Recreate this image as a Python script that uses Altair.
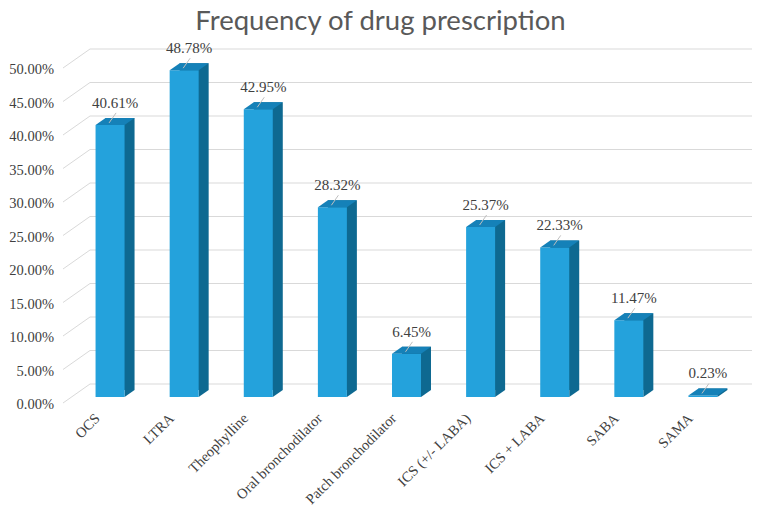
import altair as alt
import pandas as pd

categories = ["OCS", "LTRA", "Theophylline", "Oral bronchodilator", "Patch bronchodilator",
              "ICS (+/- LABA)", "ICS + LABA", "SABA", "SAMA"]
values = [0.4061, 0.4878, 0.4295, 0.2832, 0.0645, 0.2537, 0.2233, 0.1147, 0.0023]
grid_ticks = [0.0, 0.05, 0.10, 0.15, 0.20, 0.25, 0.30, 0.35, 0.40, 0.45, 0.50]

df = pd.DataFrame({"cat": categories, "value": values})
gdf = pd.DataFrame({"value": grid_ticks})

W, H = 667, 335
FRONT = "#24A2DC"
SIDE = "#0E6991"
TOP = "#1581B8"
SERIF = "Liberation Serif"

xaxis = alt.Axis(title=None, labelAngle=315, labelAlign="right", labelBaseline="top",
                 labelPadding=14, labelOffset=-17, labelFont=SERIF, labelFontSize=14.5,
                 labelColor="#404040", domain=False, ticks=False, grid=False,
                 labelOverlap=False, labelLimit=300)
yaxis = alt.Axis(title=None, values=grid_ticks, labels=False, domain=False, ticks=False, grid=False)

X = alt.X("cat:N", sort=categories, scale=alt.Scale(paddingInner=0, paddingOuter=0), axis=xaxis)
Y = alt.Y("value:Q", scale=alt.Scale(domain=[0, 0.5]), axis=yaxis)

grid_back = alt.Chart(gdf).mark_rule(color="#D9D9D9", strokeWidth=1, yOffset=-13).encode(
    y=Y, x=alt.value(17), x2=alt.value(700))
grid_slant = alt.Chart(gdf).mark_rule(color="#D9D9D9", strokeWidth=1, yOffset=6, y2Offset=-13).encode(
    y=Y, y2="value:Q", x=alt.value(-10), x2=alt.value(17))
ylabels = alt.Chart(gdf).mark_text(font=SERIF, fontSize=14.5, color="#404040", align="right",
                                   baseline="middle", dy=8).encode(
    y=Y, x=alt.value(-19), text=alt.Text("value:Q", format=".2%"))

side = alt.Chart(df).mark_bar(color=SIDE, size=29, xOffset=10, yOffset=-7, y2Offset=-7).encode(
    x=X, y=Y, y2=alt.datum(0))
bottom_tri = alt.Chart(df).mark_point(
    shape="M1,0 L1,-0.483 L1.69,-0.483 Z", filled=True, size=841, opacity=1,
    color=SIDE, strokeWidth=0).encode(x=X, y=alt.datum(0))
front = alt.Chart(df).mark_bar(color=FRONT, size=29).encode(x=X, y=Y)
top = alt.Chart(df).mark_point(
    shape="M-1,0 L1,0 L1.69,-0.483 L-0.31,-0.483 Z", filled=True, size=841, opacity=1,
    color=TOP, strokeWidth=0).encode(x=X, y=Y)
leader = alt.Chart(df).mark_rule(color="#BFBFBF", strokeWidth=1, xOffset=-1, x2Offset=6,
                                 yOffset=-2, y2Offset=-12).encode(
    x=X, x2="cat:N", y=Y, y2="value:Q")
labels = alt.Chart(df).mark_text(font=SERIF, fontSize=15, color="#404040", dx=5, dy=-22,
                                 baseline="middle").encode(
    x=X, y=Y, text=alt.Text("value:Q", format=".2%"))

chart = alt.layer(grid_back, grid_slant, ylabels, side, bottom_tri, front, top, leader, labels).properties(
    width=W, height=H,
    title=alt.TitleParams("Frequency of drug prescription", font="Lato", fontSize=27.5,
                          color="#595959", fontWeight="normal", anchor="middle",
                          frame="group", offset=30, dx=-26, dy=24),
    autosize=alt.AutoSizeParams(type="none"),
    padding={"left": 65, "top": 54, "right": 12, "bottom": 111},
).configure_view(stroke=None)

chart.save("out.html", embed_options={"renderer": "svg", "actions": False})
